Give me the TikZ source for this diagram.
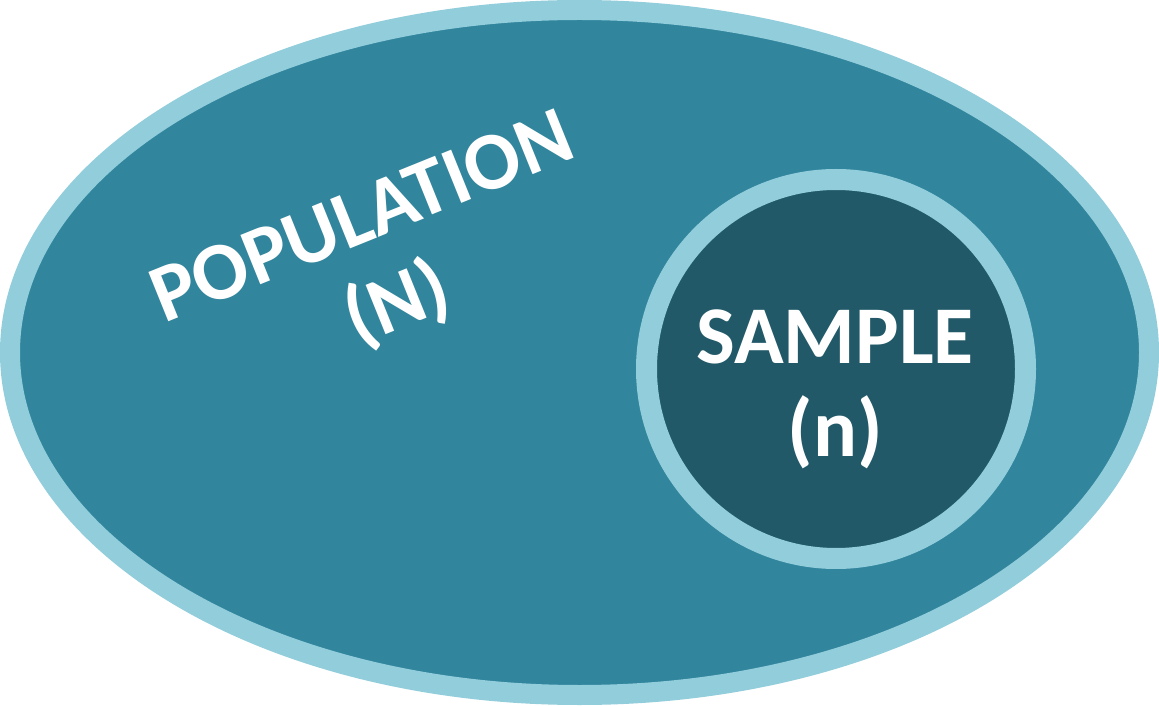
\documentclass[tikz,border=0pt]{standalone}
\usepackage{fontspec}
\setmainfont{Carlito}
\usetikzlibrary{shapes.geometric}
\definecolor{rimblue}{HTML}{92CDDC}
\definecolor{popteal}{HTML}{31859C}
\definecolor{sampdark}{HTML}{215968}
\tikzset{
  bigtext/.style={text=white, font=\fontsize{82}{93}\selectfont\bfseries, align=center, inner sep=0pt}
}
\begin{document}
\begin{tikzpicture}[x=1pt,y=1pt]
\useasboundingbox (0,0) rectangle (1159,705);
\node[ellipse, draw=rimblue, line width=20pt, fill=popteal, inner sep=0pt,
      minimum width=1139pt, minimum height=685pt] (pop) at (579.5,352.5) {};
\node[circle, draw=rimblue, line width=21pt, fill=sampdark, inner sep=0pt,
      minimum size=379pt] (samp) at (836,336) {};
\node[bigtext, rotate=22] (poptext) at (381,441) {POPULATION\\(N)};
\node[bigtext] (samptext) at (835,316) {SAMPLE\\(n)};
\end{tikzpicture}
\end{document}
